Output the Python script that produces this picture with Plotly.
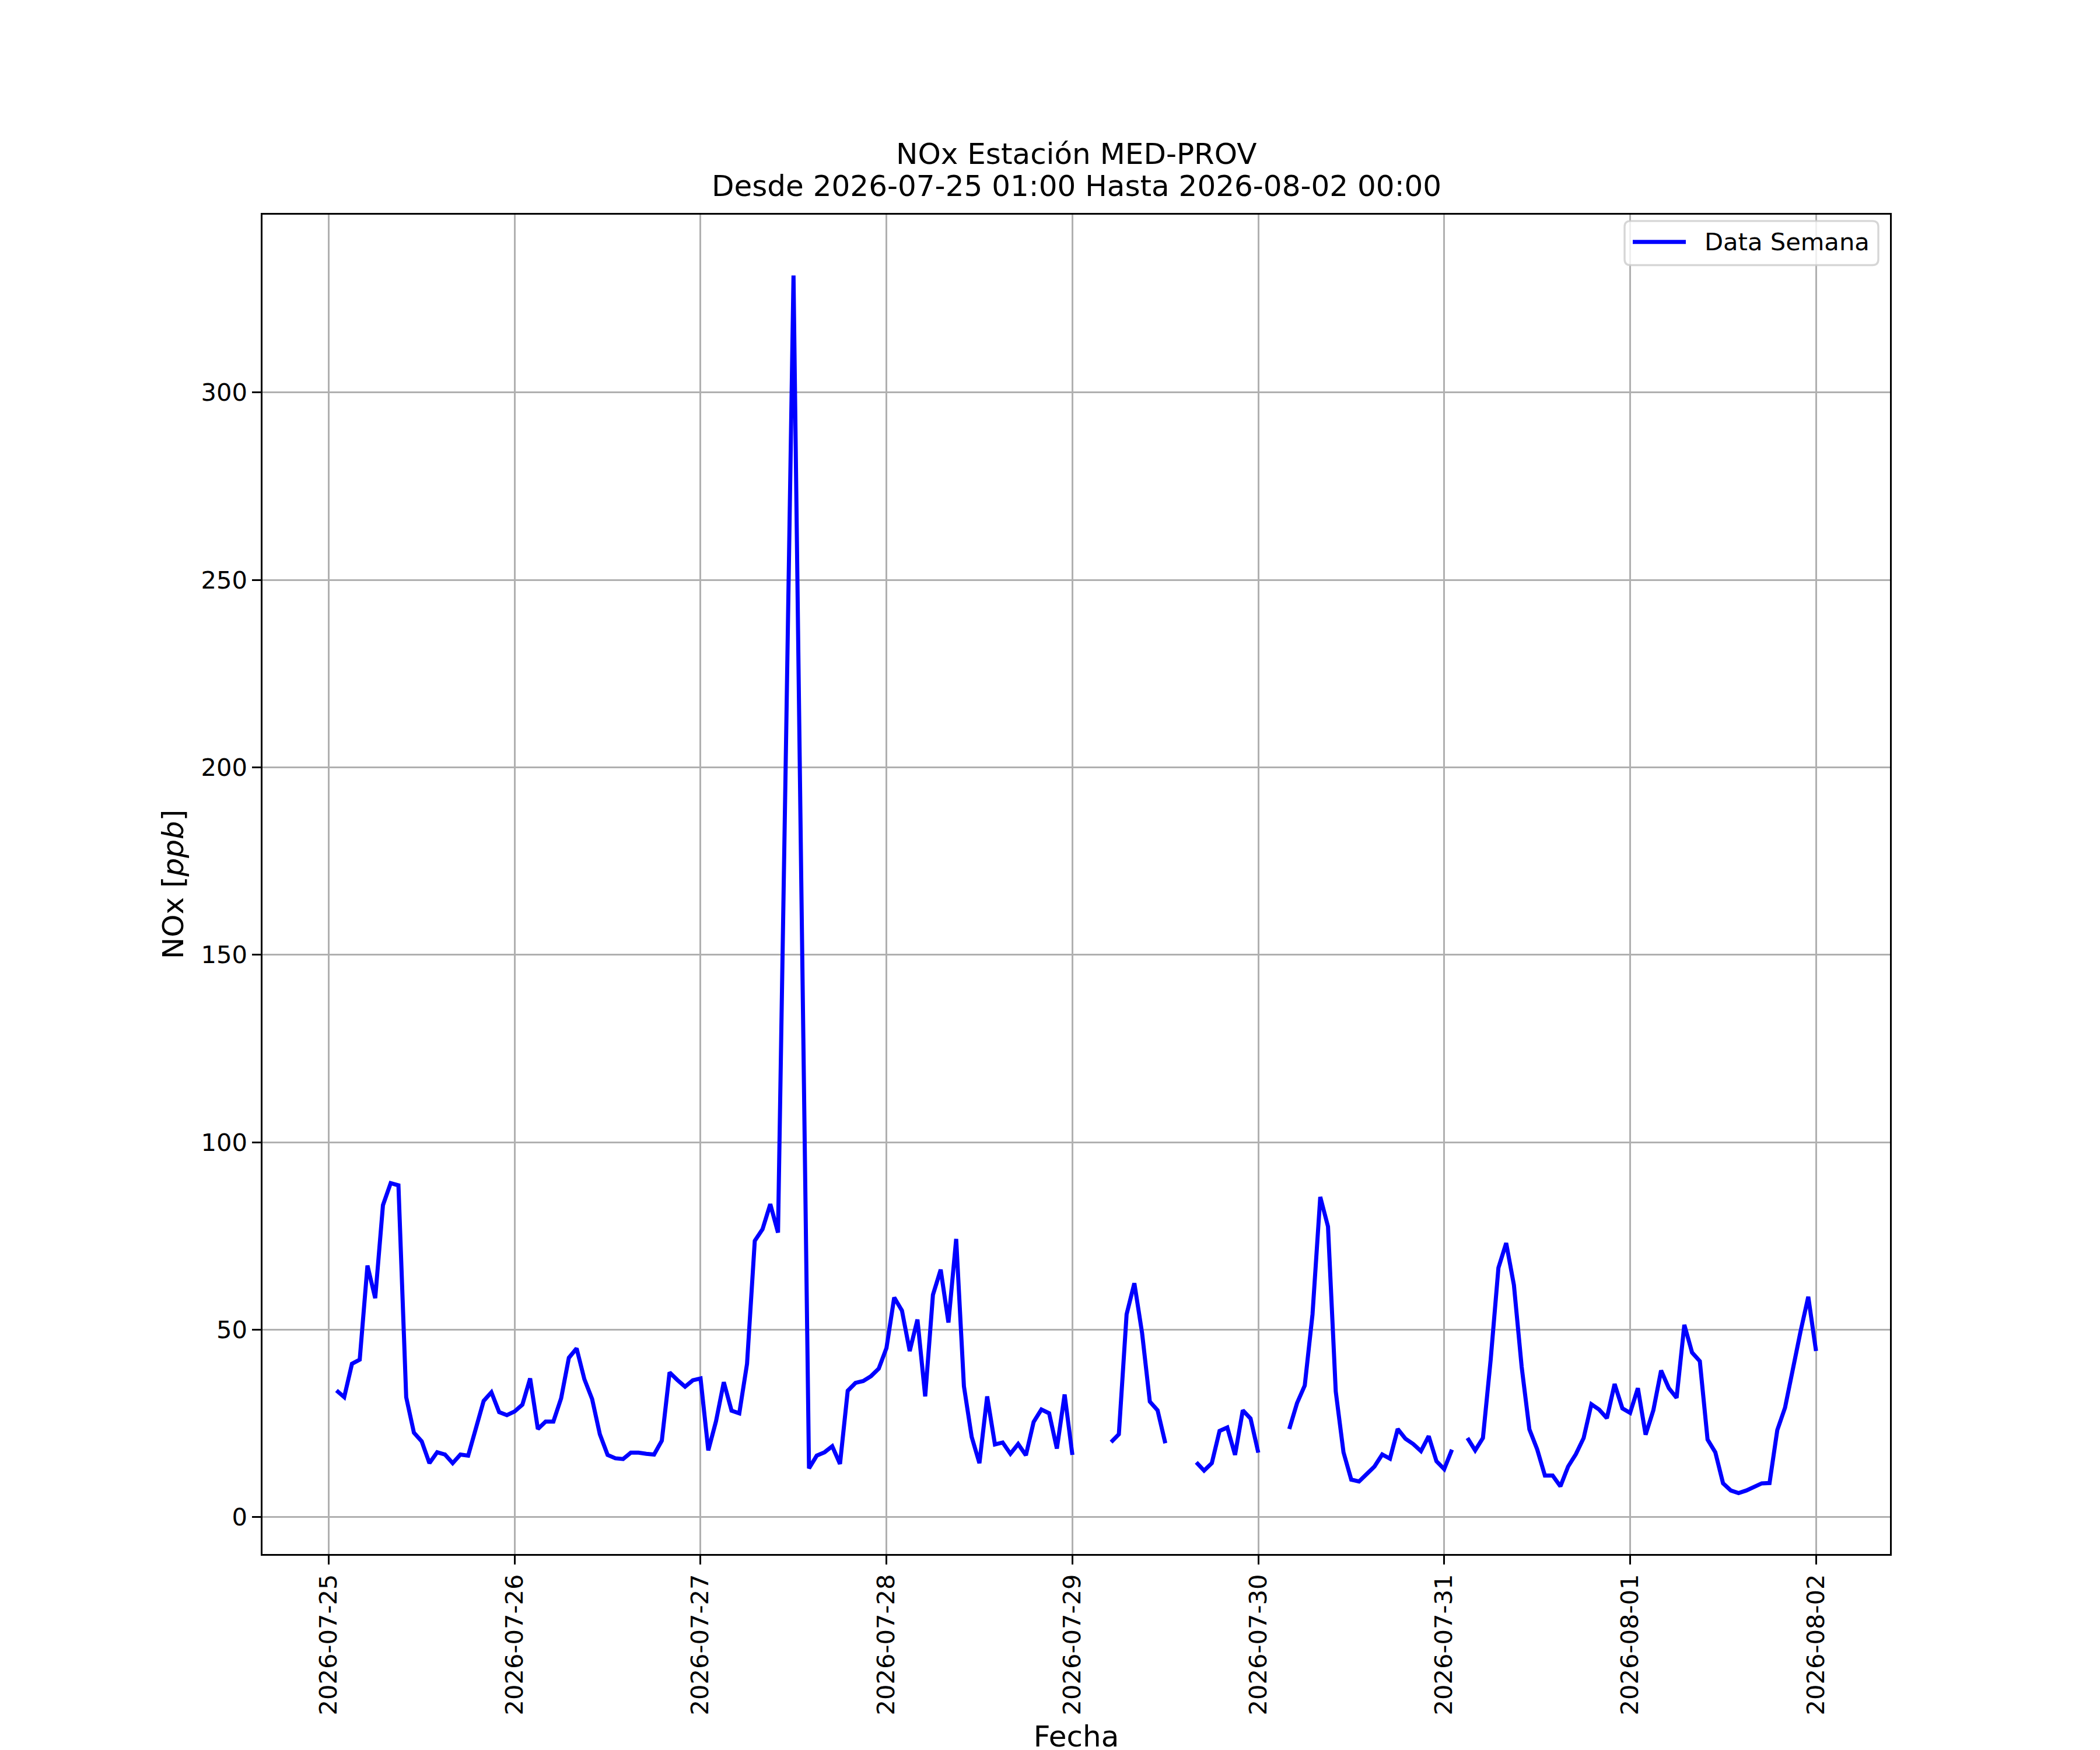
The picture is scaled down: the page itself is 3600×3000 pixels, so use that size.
import pandas as pd
import plotly.graph_objects as go

# hourly NOx readings, 2026-07-25 01:00 -> 2026-08-02 00:00 (None = missing hour)
start_time = "2026-07-25 01:00"
end_time = "2026-08-02 00:00"

nox_ppb = [
    # 07-25 01h..24h
    33.8, 32.0, 40.9, 42.0, 67.1, 58.4, 83.2, 89.1, 88.5, 32.0, 22.5, 20.2,
    14.4, 17.3, 16.7, 14.4, 16.7, 16.4, 23.7, 31.0, 33.3, 28.0, 27.2, 28.2,
    # 07-26
    30.0, 37.0, 23.5, 25.5, 25.5, 31.7, 42.5, 45.0, 36.8, 31.5, 22.1, 16.6,
    15.7, 15.5, 17.2, 17.2, 16.9, 16.7, 20.4, 38.6, 36.6, 34.8, 36.5, 37.0,
    # 07-27
    17.8, 25.6, 36.0, 28.4, 27.7, 40.9, 73.7, 76.8, 83.5, 75.9, 202.0, 331.2,
    170.0, 13.0, 16.4, 17.3, 18.9, 14.2, 33.7, 35.8, 36.3, 37.6, 39.6, 45.1,
    # 07-28
    58.6, 55.1, 44.3, 52.7, 32.2, 59.3, 66.0, 51.9, 74.2, 34.9, 21.4, 14.4,
    32.2, 19.4, 19.9, 16.9, 19.5, 16.5, 25.4, 28.7, 27.7, 18.3, 32.7, 16.6,
    # 07-29
    None, None, None, None, 20.0, 22.1, 54.1, 62.4, 49.1, 30.8, 28.5, 19.7,
    None, None, None, 14.6, 12.4, 14.4, 23.0, 23.9, 16.6, 28.5, 26.3, 17.2,
    # 07-30
    None, None, None, 23.5, 30.4, 35.1, 54.1, 85.4, 77.5, 33.5, 17.3, 10.0,
    9.5, 11.5, 13.5, 16.7, 15.6, 23.5, 20.9, 19.5, 17.6, 21.6, 14.9, 12.8,
    # 07-31
    18.0, None, 21.1, 17.8, 21.1, 42.0, 66.5, 73.1, 61.9, 40.1, 23.4, 18.1,
    11.1, 11.1, 8.2, 13.5, 16.8, 21.1, 30.1, 28.7, 26.4, 35.5, 29.0, 27.8,
    # 08-01
    34.4, 22.0, 28.5, 39.1, 34.4, 31.8, 51.3, 43.9, 41.6, 20.7, 17.3, 9.0,
    7.1, 6.4, 7.1, 8.1, 9.0, 9.1, 23.2, 29.2, 39.8, 49.5, 58.8, 44.3,
]

fechas = pd.date_range(start_time, end_time, freq="h")

y_ticks = [0, 50, 100, 150, 200, 250, 300]
titulo = "NOx Estación MED-PROV"
subtitulo = "Desde 2026-07-25 01:00 Hasta 2026-08-02 00:00"
leyenda = "Data Semana"

FONT = "DejaVu Sans"
PT = 300 / 72  # px per point at 300 dpi
LINE_W = 7

# plot area in page pixels
L, T, W, H = 450, 360, 2790, 2310
X_OFF = 8  # page is drawn a few px to the right


def px_x(X):
    return (X - L) / W


def px_y(Y):
    return 1 - (Y - T) / H


fig = go.Figure()
fig.add_trace(go.Scatter(
    x=fechas, y=nox_ppb, mode="lines", name=leyenda,
    line=dict(color="blue", width=LINE_W),
    connectgaps=False, showlegend=False,
))

# 5% margins like matplotlib autoscale
t0 = fechas[0] - (fechas[-1] - fechas[0]) * 0.05
t1 = fechas[-1] + (fechas[-1] - fechas[0]) * 0.05
vals = [v for v in nox_ppb if v is not None]
span = max(vals) - min(vals)
y0 = min(vals) - 0.05 * span
y1 = max(vals) + 0.05 * span

axis_common = dict(
    showline=True, linecolor="black", linewidth=0.8 * PT, mirror=True,
    ticks="outside", ticklen=3.5 * PT, tickwidth=0.8 * PT, tickcolor="black",
    showgrid=True, gridcolor="#b0b0b0", gridwidth=0.8 * PT,
    zeroline=False,
    tickfont=dict(family=FONT, size=10 * PT, color="black"),
)

fig.update_xaxes(
    type="date", range=[t0, t1],
    tick0="2026-07-25", dtick=86400000, tickformat="%Y-%m-%d",
    tickangle=-90,
    title=dict(text="Fecha", font=dict(family=FONT, size=12 * PT, color="black"), standoff=20),
    **axis_common,
)
fig.update_yaxes(
    range=[y0, y1], tickvals=y_ticks,
    title=dict(text="NOx [<i>ppb</i>]", font=dict(family=FONT, size=12 * PT, color="black"), standoff=14),
    **axis_common,
)

# two-line title
fig.add_annotation(text=titulo, xref="paper", yref="paper", x=0.5, y=1,
                   xanchor="center", yanchor="bottom", yshift=73, showarrow=False,
                   font=dict(family=FONT, size=12 * PT, color="black"))
fig.add_annotation(text=subtitulo, xref="paper", yref="paper", x=0.5, y=1,
                   xanchor="center", yanchor="bottom", yshift=18, showarrow=False,
                   font=dict(family=FONT, size=12 * PT, color="black"))

# legend box, drawn like matplotlib's (rounded frame, long handle)
bx0, bx1, by0, by1, r = 2785, 3220, 371, 447, 10
x0, x1, yt, yb = px_x(bx0), px_x(bx1), px_y(by0), px_y(by1)
rx, ry = r / W, r / H
box_path = (
    f"M {x0 + rx},{yt} L {x1 - rx},{yt} Q {x1},{yt} {x1},{yt - ry} "
    f"L {x1},{yb + ry} Q {x1},{yb} {x1 - rx},{yb} "
    f"L {x0 + rx},{yb} Q {x0},{yb} {x0},{yb + ry} "
    f"L {x0},{yt - ry} Q {x0},{yt} {x0 + rx},{yt} Z"
)
fig.add_shape(type="path", path=box_path, xref="paper", yref="paper", layer="above",
              fillcolor="rgba(255,255,255,0.8)", line=dict(color="rgba(204,204,204,0.8)", width=0.8 * PT))
fig.add_shape(type="line", xref="paper", yref="paper", layer="above",
              x0=px_x(2799), x1=px_x(2890), y0=px_y(407), y1=px_y(407),
              line=dict(color="blue", width=LINE_W))
fig.add_annotation(text=leyenda, xref="paper", yref="paper", x=px_x(2920), y=px_y(407),
                   xanchor="left", yanchor="middle", showarrow=False,
                   font=dict(family=FONT, size=10 * PT, color="black"))

fig.update_layout(
    width=3600, height=3000,
    margin=dict(l=L - X_OFF, r=3600 - (L - X_OFF) - W, t=T, b=3000 - T - H),
    paper_bgcolor="white", plot_bgcolor="white",
    font=dict(family=FONT, color="black"),
    showlegend=False,
)

fig.write_html("out.html")
